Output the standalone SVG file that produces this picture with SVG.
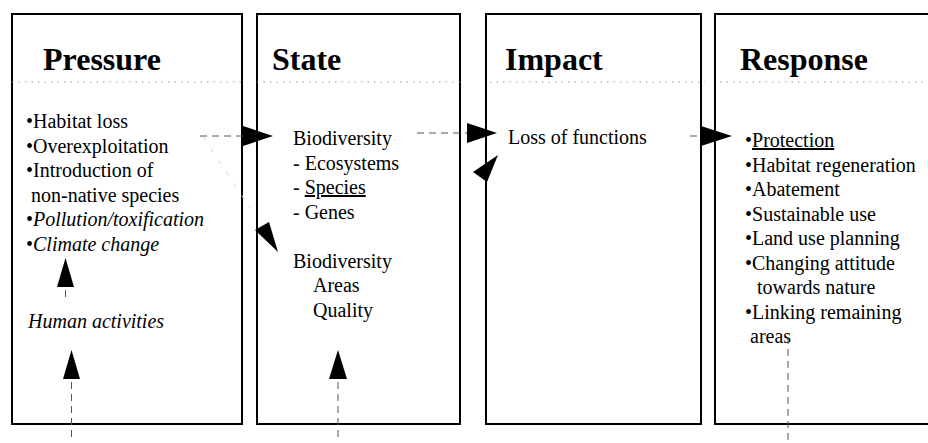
<svg xmlns="http://www.w3.org/2000/svg" width="928" height="443" viewBox="0 0 928 443">
  <style>
    .box { fill: #fff; stroke: #000; stroke-width: 2; }
    .sep { stroke: #9a9a9a; stroke-width: 1; stroke-dasharray: 1.5 5; }
    .title { font-family: "Liberation Serif", "Times New Roman", serif; font-weight: bold; font-size: 32px; fill: #000; }
    .txt { font-family: "Liberation Serif", "Times New Roman", serif; font-size: 20px; fill: #000; }
    .it { font-style: italic; }
    .u { text-decoration: underline; }
    .dash { stroke: #555; stroke-width: 1; fill: none; stroke-dasharray: 7 5; }
    .faint { stroke: #d2d2d2; stroke-width: 1; fill: none; stroke-dasharray: 4 10; }
    .head { fill: #000; }
  </style>

  <rect width="928" height="443" fill="#fff"/>

  <!-- Pressure column -->
  <g id="pressure">
    <rect class="box" x="12" y="14" width="230" height="410"/>
    <line class="sep" x1="12" y1="82" x2="242" y2="82"/>
    <text class="title" x="43" y="70">Pressure</text>
    <text class="txt" x="26" y="128">•Habitat loss</text>
    <text class="txt" x="26" y="152.5">•Overexploitation</text>
    <text class="txt" x="26" y="177">•Introduction of</text>
    <text class="txt" x="31" y="201.5">non-native species</text>
    <text class="txt" x="26" y="226">•<tspan class="it">Pollution/toxification</tspan></text>
    <text class="txt" x="26" y="250.5">•<tspan class="it">Climate change</tspan></text>
    <text class="txt it" x="28" y="328">Human activities</text>
  </g>

  <!-- State column -->
  <g id="state">
    <rect class="box" x="257" y="14" width="203" height="410"/>
    <line class="sep" x1="257" y1="82" x2="465" y2="82"/>
    <text class="title" x="272" y="70">State</text>
    <text class="txt" x="293" y="145">Biodiversity</text>
    <text class="txt" x="293" y="169.5">- Ecosystems</text>
    <text class="txt" x="293" y="194">- <tspan class="u">Species</tspan></text>
    <text class="txt" x="293" y="218.5">- Genes</text>
    <text class="txt" x="293" y="267.5">Biodiversity</text>
    <text class="txt" x="313" y="292">Areas</text>
    <text class="txt" x="313" y="316.5">Quality</text>
  </g>

  <!-- Impact column -->
  <g id="impact">
    <rect class="box" x="486" y="14" width="215" height="410"/>
    <line class="sep" x1="490" y1="82" x2="705" y2="82"/>
    <text class="title" x="505" y="70">Impact</text>
    <text class="txt" x="508" y="143.5">Loss of functions</text>
  </g>

  <!-- Response column (runs off the right edge) -->
  <g id="response">
    <rect class="box" x="715" y="14" width="230" height="410"/>
    <line class="sep" x1="720" y1="82" x2="925" y2="82"/>
    <text class="title" x="740" y="70">Response</text>
    <text class="txt" x="745" y="147">•<tspan class="u">Protection</tspan></text>
    <text class="txt" x="745" y="171.5">•Habitat regeneration</text>
    <text class="txt" x="745" y="196">•Abatement</text>
    <text class="txt" x="745" y="220.5">•Sustainable use</text>
    <text class="txt" x="745" y="245">•Land use planning</text>
    <text class="txt" x="745" y="269.5">•Changing attitude</text>
    <text class="txt" x="757" y="294">towards nature</text>
    <text class="txt" x="745" y="318.5">•Linking remaining</text>
    <text class="txt" x="750" y="343">areas</text>
  </g>

  <!-- Connectors -->
  <g id="connectors">
    <!-- Pressure to State -->
    <line class="dash" x1="200" y1="136" x2="244" y2="136"/>
    <polygon class="head" points="243,126 273,136 243,146"/>
    <line class="faint" x1="203" y1="137" x2="250" y2="208"/>
    <!-- State to Impact -->
    <line class="dash" x1="417" y1="133" x2="468" y2="133"/>
    <polygon class="head" points="467,123 497,133 467,143"/>
    <!-- Impact to Response -->
    <line class="dash" x1="690" y1="136" x2="702" y2="136"/>
    <polygon class="head" points="701,126 732,136 701,146"/>
    <!-- feedback heads on State and Impact -->
    <polygon class="head" points="255,230 269,222 278,252"/>
    <polygon class="head" points="473,172 498,155 487,182"/>
    <!-- Human activities to pressures -->
    <polygon class="head" points="65.5,258 57,287 74,287"/>
    <line class="dash" x1="65.5" y1="290" x2="65.5" y2="298"/>
    <!-- Driving forces into Pressure -->
    <polygon class="head" points="71.5,350 63,379 80,379"/>
    <line class="dash" x1="71.5" y1="382" x2="71.5" y2="440"/>
    <!-- Driving forces into State -->
    <polygon class="head" points="338,350 329,379 347,379"/>
    <line class="dash" x1="338" y1="382" x2="338" y2="440"/>
    <!-- Response outward -->
    <line class="dash" x1="788" y1="337" x2="788" y2="440"/>
  </g>
</svg>
